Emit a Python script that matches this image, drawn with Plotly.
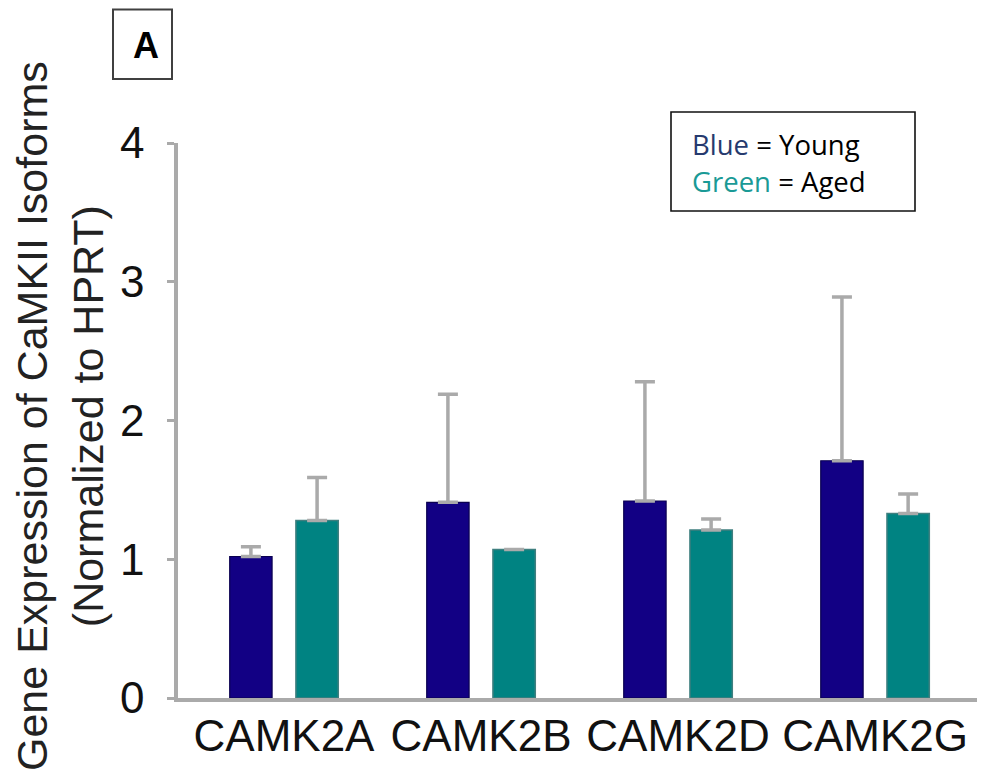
import plotly.graph_objects as go

# ---- data ----
categories = ["CAMK2A", "CAMK2B", "CAMK2D", "CAMK2G"]
young = [1.02, 1.41, 1.42, 1.71]
aged = [1.28, 1.07, 1.21, 1.33]
young_err = [0.07, 0.78, 0.86, 1.18]
aged_err = [0.31, 0.0, 0.08, 0.14]
y_ticks = [0, 1, 2, 3, 4]

# ---- layout geometry (page pixels; the page body adds an 8px offset) ----
OFF = 8
PAGE_W, PAGE_H = 985, 772
W, H = PAGE_W - OFF, PAGE_H - OFF
PLOT_X0, PLOT_X1 = 178, 983      # page coords of plot area
PLOT_Y0, PLOT_Y1 = 143, 698
L = PLOT_X0 - OFF
R = W - (PLOT_X1 - OFF)
T = PLOT_Y0 - OFF
B = H - (PLOT_Y1 - OFF)
PW, PH = W - L - R, H - T - B


def px(x):
    return (x - OFF - L) / PW


def py(y):
    return (H - B - (y - OFF)) / PH


BAR_W = 0.215
GAP = 0.168
AXIS_COL = "#aaaaaa"

fig = go.Figure()
fig.add_trace(go.Bar(
    x=categories, y=young, name="Young",
    width=BAR_W, offset=-GAP - BAR_W / 2,
    marker=dict(color="#120084", line=dict(color="#0a0050", width=1.2)),
    error_y=dict(type="data", array=young_err, arrayminus=[0] * len(young_err),
                 symmetric=False, color=AXIS_COL, thickness=3.5, width=10),
))
fig.add_trace(go.Bar(
    x=categories, y=aged, name="Aged",
    width=BAR_W, offset=GAP - BAR_W / 2,
    marker=dict(color="#008382", line=dict(color="#3f7f7f", width=1.5)),
    error_y=dict(type="data", array=aged_err, arrayminus=[0] * len(aged_err),
                 symmetric=False, color=AXIS_COL, thickness=3.5, width=10),
))

tick_font = dict(family="Liberation Sans, Arial, sans-serif", size=44, color="#111111")

fig.update_layout(
    width=W, height=H,
    margin=dict(l=L, r=R, t=T, b=B, autoexpand=False),
    paper_bgcolor="white", plot_bgcolor="white",
    barmode="overlay", showlegend=False,
    xaxis=dict(
        type="category", range=[-0.538, 3.548],
        showline=True, linecolor=AXIS_COL, linewidth=3.5,
        showgrid=False, zeroline=False, ticks="",
        tickfont=tick_font, ticklabelstandoff=-4,
    ),
    yaxis=dict(
        range=[0, 4], tickvals=y_ticks, ticktext=[str(v) for v in y_ticks],
        showline=True, linecolor=AXIS_COL, linewidth=3.5,
        showgrid=False, zeroline=False,
        ticks="outside", ticklen=7, tickwidth=3, tickcolor=AXIS_COL,
        tickfont=tick_font, ticklabelstandoff=14,
    ),
)

# y-axis title (two lines, rotated)
fig.add_annotation(
    text="Gene Expression of CaMKII Isoforms<br>(Normalized to HPRT)",
    xref="paper", yref="paper", x=px(60), y=py(416),
    xanchor="center", yanchor="middle", textangle=-90, showarrow=False,
    font=dict(family="Liberation Sans, Arial, sans-serif", size=43, color="#222222"),
)

# panel label box "A"
fig.add_shape(type="rect", xref="paper", yref="paper",
              x0=px(113), x1=px(172), y0=py(79), y1=py(9.5),
              line=dict(color="#404040", width=2), fillcolor="white", layer="above")
fig.add_annotation(
    text="<b>A</b>", xref="paper", yref="paper", x=px(145.5), y=py(45),
    xanchor="center", yanchor="middle", showarrow=False,
    font=dict(family="Liberation Sans, Arial, sans-serif", size=36, color="black"),
)

# colour key box
fig.add_shape(type="rect", xref="paper", yref="paper",
              x0=px(671), x1=px(915), y0=py(211), y1=py(112),
              line=dict(color="#111111", width=1.6), fillcolor="white", layer="above")
key_font = dict(family="Open Sans, Noto Sans, sans-serif", size=27.5, color="black")
fig.add_annotation(
    text="<span style='color:#263a6e'>Blue</span> = Young",
    xref="paper", yref="paper", x=px(690), y=py(144),
    xanchor="left", yanchor="middle", showarrow=False, font=key_font,
)
fig.add_annotation(
    text="<span style='color:#1a9a96'>Green</span> = Aged",
    xref="paper", yref="paper", x=px(690), y=py(182),
    xanchor="left", yanchor="middle", showarrow=False, font=key_font,
)

fig.write_html("out.html")
